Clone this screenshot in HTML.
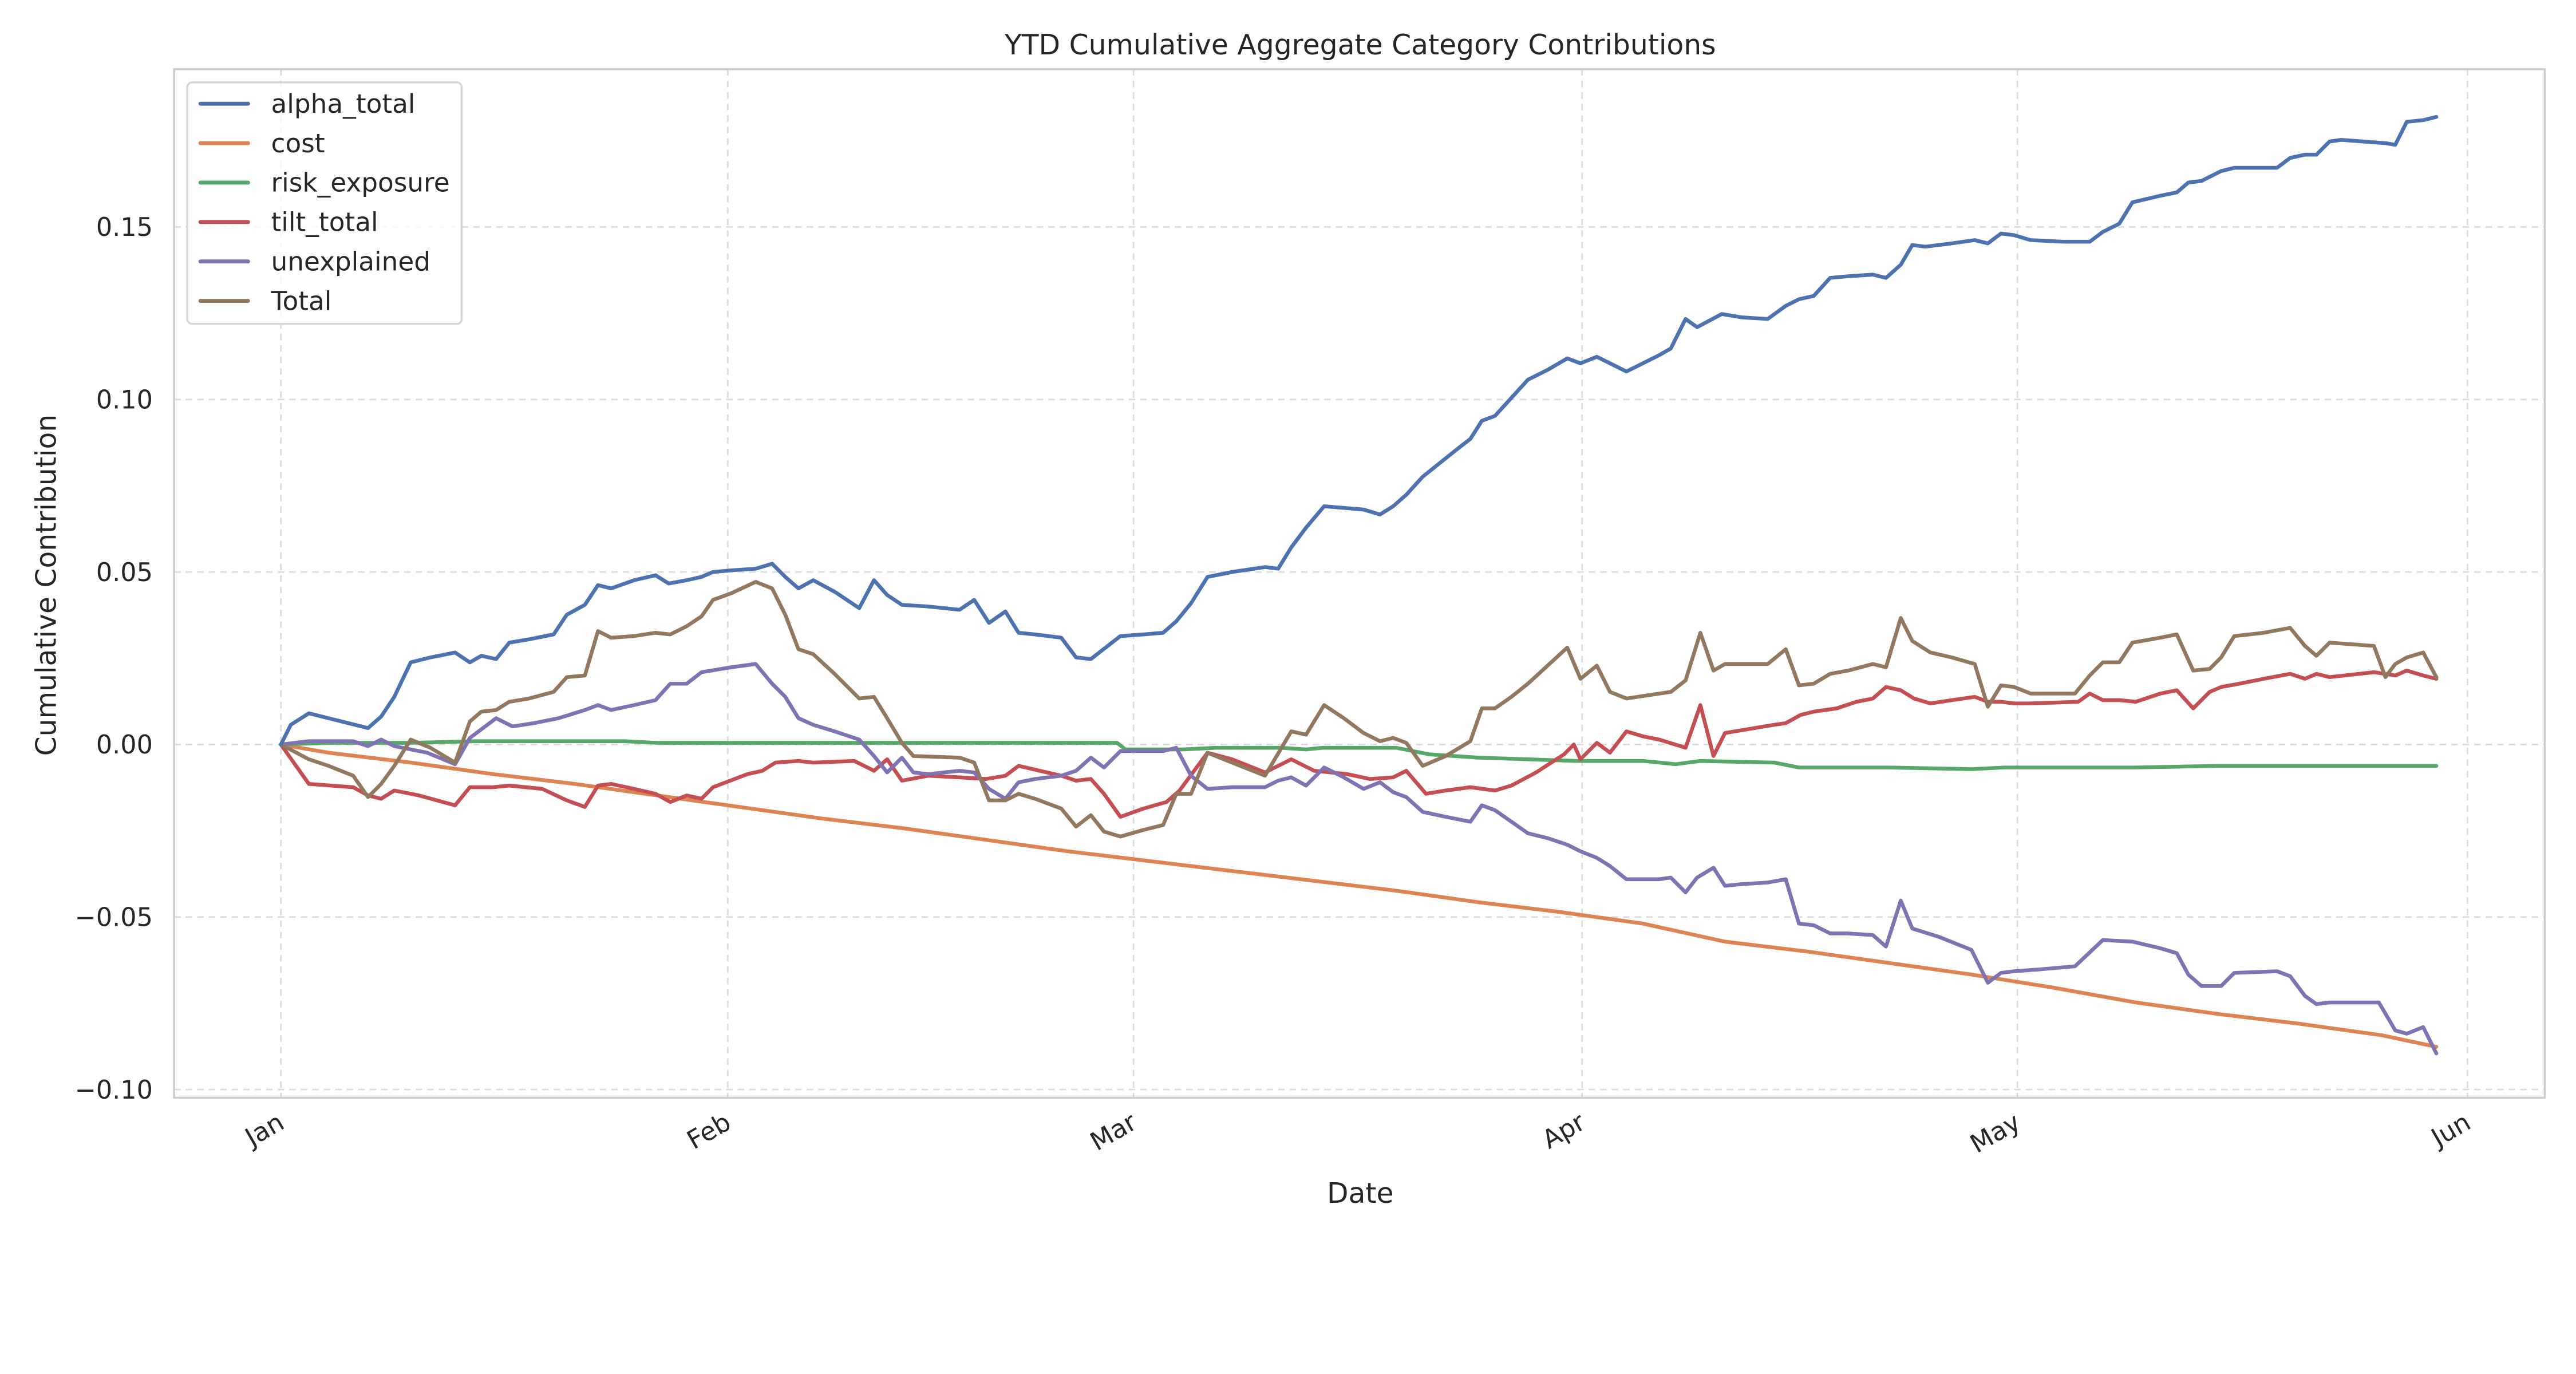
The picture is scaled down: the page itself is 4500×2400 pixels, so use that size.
<!DOCTYPE html>
<html><head><meta charset="utf-8"><style>html,body{margin:0;padding:0;background:#fff}svg{display:block}</style></head><body>
<svg width="4500" height="2400" viewBox="0 0 1568 836" xmlns="http://www.w3.org/2000/svg" font-family="'DejaVu Sans','Liberation Sans',sans-serif" fill="#262626">
<rect x="0" y="0" width="1568" height="836" fill="#fff"/>
<g stroke="#dcdcdc" stroke-width="1" stroke-dasharray="4,3">
<line x1="106" x2="1549" y1="138" y2="138"/><line x1="106" x2="1549" y1="243" y2="243"/><line x1="106" x2="1549" y1="348" y2="348"/><line x1="106" x2="1549" y1="453" y2="453"/><line x1="106" x2="1549" y1="558" y2="558"/><line x1="106" x2="1549" y1="663" y2="663"/>
<line y1="42" y2="668" x1="171" x2="171"/><line y1="42" y2="668" x1="443" x2="443"/><line y1="42" y2="668" x1="690" x2="690"/><line y1="42" y2="668" x1="963" x2="963"/><line y1="42" y2="668" x1="1228" x2="1228"/><line y1="42" y2="668" x1="1502" x2="1502"/>
</g>
<rect x="106" y="42" width="1443" height="626" fill="none" stroke="#cccccc" stroke-width="1.25"/>
<g font-size="15.5" text-anchor="end">
<text x="93" y="143.5">0.15</text><text x="93" y="248.5">0.10</text><text x="93" y="353.5">0.05</text><text x="93" y="458.5">0.00</text><text x="93" y="563.5">−0.05</text><text x="93" y="668.5">−0.10</text>
</g>
<g font-size="15.5" text-anchor="end">
<text transform="translate(174,686) rotate(-30)">Jan</text>
<text transform="translate(446,686) rotate(-30)">Feb</text>
<text transform="translate(693,686) rotate(-30)">Mar</text>
<text transform="translate(966,686) rotate(-30)">Apr</text>
<text transform="translate(1231,686) rotate(-30)">May</text>
<text transform="translate(1505,686) rotate(-30)">Jun</text>
</g>
<text x="828" y="33" font-size="17" text-anchor="middle">YTD Cumulative Aggregate Category Contributions</text>
<text x="828" y="732" font-size="17" text-anchor="middle">Date</text>
<text transform="translate(34,356) rotate(-90)" font-size="17" text-anchor="middle">Cumulative Contribution</text>
<g fill="none" stroke-width="2.3" stroke-linejoin="round" stroke-linecap="round">
<polyline stroke="#dd8452" points="171,453 200,458 250,464 300,471 350,477 400,484 450,491 500,498 550,504 600,511 650,518 700,524 750,530 800,536 850,542 900,549 950,555 1000,562 1050,573 1100,579 1150,586 1200,593 1250,601 1300,610 1350,617 1400,623 1450,630 1483,637"/>
<polyline stroke="#55a868" points="171,453 200,452 250,452 290,451 350,451 380,451 400,452 450,452 500,452 550,452 600,452 650,452 680,452 685,456 720,456 740,455 780,455 795,456 805,455 850,455 870,459 900,461 930,462 960,463 1000,463 1020,465 1035,463 1080,464 1095,467 1150,467 1200,468 1220,467 1300,467 1350,466 1450,466 1483,466"/>
<polyline stroke="#c44e52" points="171,453 188,477 215,479 224,484 232,486 240,481 255,484 277,490 286,479 300,479 310,478 330,480 345,487 356,491 364,478 372,477 386,480 399,483 408,488 418,484 427,486 434,479 455,471 464,469 472,464 486,463 495,464 520,463 532,469 540,462 549,475 565,472 584,473 600,474 612,472 620,466 646,472 655,475 664,474 672,483 682,497 696,492 710,488 718,481 735,458 750,462 770,470 786,462 800,469 820,471 834,474 848,473 856,469 868,483 880,481 895,479 910,481 920,478 935,470 952,459 958,453 962,462 972,452 980,458 990,445 1000,448 1010,450 1026,455 1035,429 1043,460 1050,446 1080,441 1087,440 1096,435 1104,433 1118,431 1130,427 1140,425 1148,418 1157,420 1165,425 1175,428 1188,426 1202,424 1210,427 1218,427 1226,428 1236,428 1265,427 1272,422 1280,426 1290,426 1300,427 1315,422 1325,420 1335,431 1345,421 1352,418 1363,416 1378,413 1394,410 1403,413 1410,410 1418,412 1445,409 1458,411 1465,408 1475,411 1483,413"/>
<polyline stroke="#8172b3" points="171,453 188,451 200,451 215,451 224,454 232,450 240,454 260,458 277,465 286,449 302,437 312,442 325,440 340,437 356,432 364,429 372,432 386,429 399,426 408,416 418,416 427,409 445,406 460,404 470,416 478,424 486,437 495,441 508,445 523,450 532,460 540,470 549,461 556,470 565,471 584,469 593,470 602,480 612,486 620,476 630,474 646,472 655,469 664,461 672,467 682,457 696,457 708,457 716,455 725,472 735,480 750,479 770,479 778,475 786,473 795,478 806,467 818,473 830,480 840,476 848,482 856,485 866,494 880,497 895,500 902,490 910,493 920,500 930,507 942,510 954,514 962,518 972,522 980,527 990,535 1010,535 1017,534 1026,543 1033,534 1043,528 1050,539 1060,538 1076,537 1087,535 1095,562 1104,563 1114,568 1125,568 1140,569 1148,576 1157,548 1164,565 1180,570 1200,578 1210,598 1218,592 1226,591 1240,590 1263,588 1280,572 1298,573 1315,577 1325,580 1332,593 1340,600 1352,600 1360,592 1386,591 1394,594 1403,606 1410,611 1418,610 1425,610 1448,610 1458,627 1465,629 1475,625 1483,641"/>
<polyline stroke="#937860" points="171,453 188,462 200,466 215,472 224,485 232,477 240,466 250,450 262,455 277,464 286,439 293,433 302,432 310,427 322,425 337,421 345,412 356,411 364,384 372,388 386,387 399,385 408,386 418,381 427,375 434,365 445,361 460,354 470,358 478,374 486,395 495,398 508,410 523,425 532,424 540,437 549,452 556,460 584,461 593,464 602,487 612,487 620,483 630,486 646,492 655,503 664,496 672,506 682,509 696,505 708,502 716,483 725,483 735,458 750,464 770,472 786,445 795,447 806,429 818,437 830,446 840,451 848,449 856,452 866,466 880,460 895,451 902,431 910,431 920,424 930,416 942,405 954,394 962,413 972,405 980,421 990,425 1010,422 1017,421 1026,414 1035,385 1043,408 1050,404 1076,404 1087,395 1095,417 1104,416 1114,410 1125,408 1140,404 1148,406 1157,376 1164,390 1175,397 1188,400 1202,404 1210,430 1218,417 1226,418 1236,422 1263,422 1272,411 1280,403 1290,403 1298,391 1315,388 1325,386 1335,408 1345,407 1352,400 1360,387 1378,385 1394,382 1403,393 1410,399 1418,391 1445,393 1452,412 1458,404 1465,400 1475,397 1483,412"/>
<polyline stroke="#4c72b0" points="171,453 177,441 188,434 200,437 212,440 224,443 232,436 240,424 250,403 262,400 277,397 286,403 293,399 302,401 310,391 322,389 337,386 345,374 356,368 364,356 372,358 386,353 399,350 407,355 418,353 427,351 434,348 445,347 460,346 470,343 478,351 486,358 495,353 508,360 523,370 532,353 540,362 549,368 565,369 584,371 593,365 602,379 612,372 620,385 630,386 646,388 655,400 664,401 682,387 696,386 708,385 716,378 725,367 735,351 750,348 770,345 778,346 786,333 795,321 806,308 818,309 830,310 840,313 848,308 856,301 866,290 876,282 886,274 895,267 902,256 910,253 920,242 930,231 942,225 954,218 962,221 972,217 980,221 990,226 1000,221 1010,216 1017,212 1026,194 1033,199 1048,191 1060,193 1076,194 1087,186 1095,182 1104,180 1114,169 1125,168 1140,167 1148,169 1157,161 1164,149 1172,150 1188,148 1202,146 1210,148 1218,142 1226,143 1236,146 1256,147 1272,147 1280,141 1290,136 1298,123 1315,119 1325,117 1332,111 1340,110 1352,104 1360,102 1378,102 1386,102 1394,96 1403,94 1410,94 1418,86 1425,85 1452,87 1458,88 1465,74 1475,73 1483,71"/>
</g>
<rect x="114" y="50" width="167" height="147" rx="3" fill="#fff" fill-opacity="0.8" stroke="#d6d6d6" stroke-width="1.2"/>
<g stroke-width="2.4" stroke-linecap="round">
<line x1="122" x2="151" y1="63" y2="63" stroke="#4c72b0"/>
<line x1="122" x2="151" y1="87" y2="87" stroke="#dd8452"/>
<line x1="122" x2="151" y1="111" y2="111" stroke="#55a868"/>
<line x1="122" x2="151" y1="135" y2="135" stroke="#c44e52"/>
<line x1="122" x2="151" y1="159" y2="159" stroke="#8172b3"/>
<line x1="122" x2="151" y1="183" y2="183" stroke="#937860"/>
</g>
<g font-size="15.8">
<text x="165" y="68.5">alpha_total</text><text x="165" y="92.5">cost</text><text x="165" y="116.5">risk_exposure</text><text x="165" y="140.5">tilt_total</text><text x="165" y="164.5">unexplained</text><text x="165" y="188.5">Total</text>
</g>
</svg>
</body></html>
